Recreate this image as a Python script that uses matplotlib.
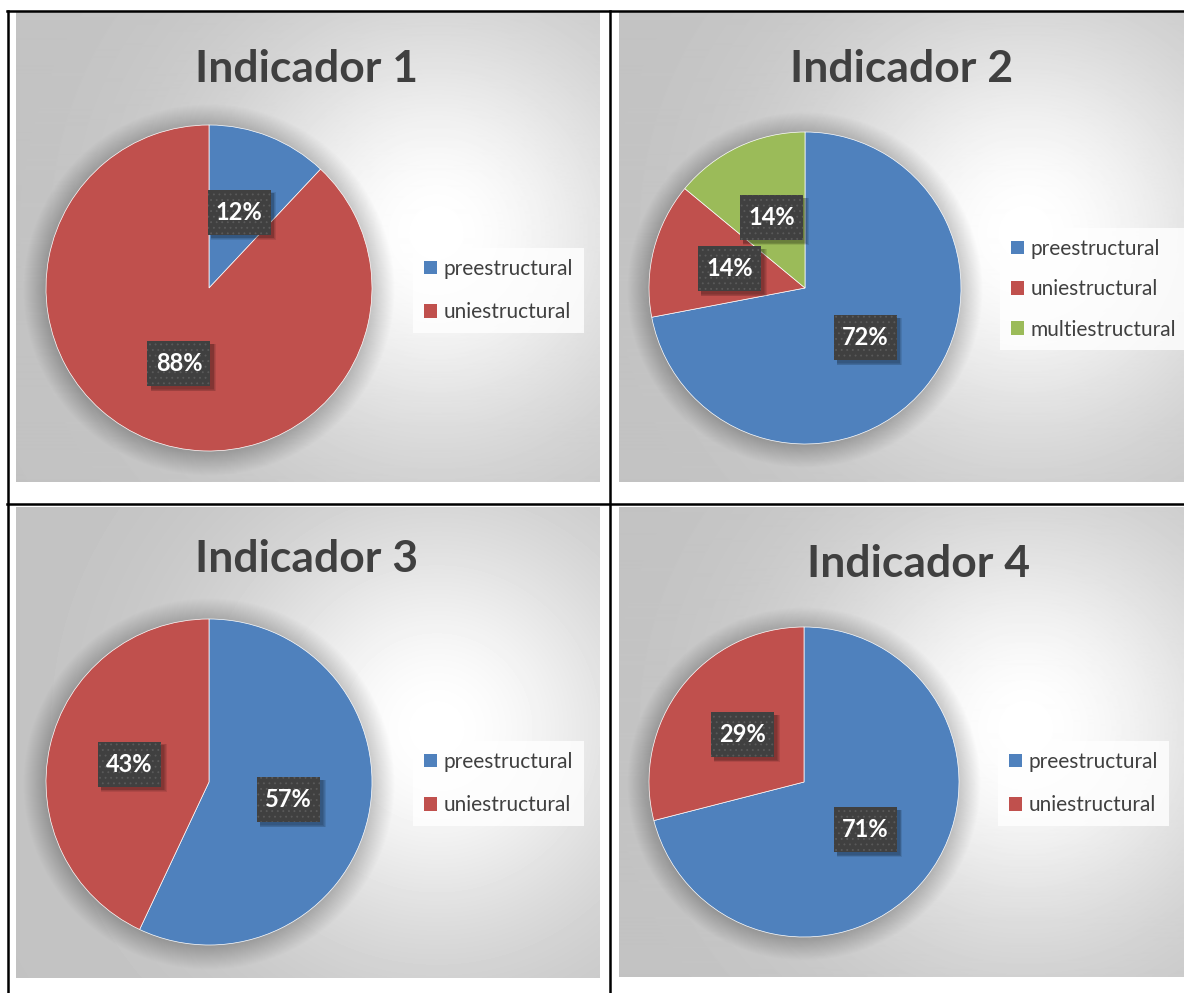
import matplotlib
matplotlib.use('Agg')
import matplotlib.pyplot as plt
import matplotlib.transforms as mtransforms
import numpy as np
from matplotlib.patches import Circle, Rectangle
from matplotlib.lines import Line2D

plt.rcParams['font.family'] = ['Lato', 'DejaVu Sans']
plt.rcParams['hatch.linewidth'] = 0.6

# ===== data =====
titles = ['Indicador 1', 'Indicador 2', 'Indicador 3', 'Indicador 4']
labels_1 = ['preestructural', 'uniestructural']
values_1 = [12, 88]
labels_2 = ['preestructural', 'uniestructural', 'multiestructural']
values_2 = [72, 14, 14]
labels_3 = ['preestructural', 'uniestructural']
values_3 = [57, 43]
labels_4 = ['preestructural', 'uniestructural']
values_4 = [71, 29]
colors = ['#4F81BD', '#C0504D', '#9BBB59']

W, H = 1184, 993
fig = plt.figure(figsize=(W / 100, H / 100), dpi=100)
fig.patch.set_facecolor('white')


def fx(x):
    return x / W


def fy(y):
    return 1 - y / H


# layout in pixels (left, top, right, bottom)
panels = [(16, 12, 600, 482), (619, 12, 1184, 482),
          (16, 507, 600, 978), (619, 507, 1184, 977)]
pies = [(209, 288, 163), (805, 288, 156), (209, 782, 163), (804, 782, 155)]
title_pos = [(307, 82), (902, 82), (307, 572), (919, 577)]
legend_pos = [(403, 238), (990, 218), (403, 731), (988, 731)]
legend_gap = [1.12, 0.98, 1.12, 1.12]
data = [(labels_1, values_1), (labels_2, values_2),
        (labels_3, values_3), (labels_4, values_4)]

box_w, box_h = 63 * 0.72, 45 * 0.72   # label box size in points

for i in range(4):
    l, t, r, b = panels[i]
    w, h = r - l, b - t
    # radial grey gradient background
    bg = fig.add_axes([fx(l), fy(b), w / W, h / H])
    yy, xx = np.mgrid[0:h, 0:w]
    d = np.hypot(xx - 0.72 * w, yy - 0.47 * h)
    val = 0.76 + 0.24 * np.exp(-(d / 215.0) ** 2)
    bg.imshow(val, cmap='gray', vmin=0, vmax=1, aspect='auto',
              extent=[0, w, h, 0], interpolation='bilinear')
    bg.axis('off')

    fig.text(fx(title_pos[i][0]), fy(title_pos[i][1]), titles[i],
             ha='center', va='baseline', fontsize=32, fontweight='bold',
             color='#404040')

    cx, cy, rad = pies[i]
    ax = fig.add_axes([fx(cx - rad), fy(cy + rad), 2 * rad / W, 2 * rad / H])
    labels, values = data[i]
    wedges, texts, autotexts = ax.pie(
        values, colors=colors[:len(values)], startangle=90, counterclock=False,
        autopct=lambda p: f'{p:.0f}%', pctdistance=0.5,
        wedgeprops=dict(edgecolor='white', linewidth=0.5))
    ax.set_xlim(-1, 1)
    ax.set_ylim(-1, 1)
    ax.axis('off')

    # soft shadow round the pie
    for k in range(24):
        ax.add_patch(Circle((0, -0.012), 1 + 0.006 * k, fc='black', alpha=0.008,
                            lw=0, zorder=0, clip_on=False))

    for at in autotexts:
        x, y = at.get_position()
        base = mtransforms.Affine2D().scale(1 / 72) + fig.dpi_scale_trans
        # blurred drop shadow
        for k in range(4):
            sh = Rectangle((-box_w / 2 + 2.2, -box_h / 2 - 2.2 - k * 0.5),
                           box_w + k * 0.6, box_h + k * 0.6, fc='black',
                           alpha=0.09, lw=0, zorder=3,
                           transform=base + mtransforms.ScaledTranslation(x, y, ax.transData))
            ax.add_patch(sh)
        box = Rectangle((-box_w / 2, -box_h / 2), box_w, box_h, fc='#404040',
                        ec='#5a5a5a', hatch='...', lw=0, zorder=3.5,
                        transform=base + mtransforms.ScaledTranslation(x, y, ax.transData))
        ax.add_patch(box)
        at.set_color('white')
        at.set_fontsize(17)
        at.set_fontweight('bold')
        at.set_zorder(4)

    lx, ly = legend_pos[i]
    leg = ax.legend(wedges, labels, loc='upper left',
                    bbox_to_anchor=(fx(lx), fy(ly)), bbox_transform=fig.transFigure,
                    fontsize=15, handlelength=0.65, handleheight=0.65,
                    handletextpad=0.3, labelspacing=legend_gap[i], borderpad=0.5,
                    fancybox=False, labelcolor='#404040')
    leg.get_frame().set_facecolor((1, 1, 1, 0.2))
    leg.get_frame().set_linewidth(0)
    for hd in leg.legend_handles:
        hd.set_linewidth(0)

# table lines
lw = 1.8
fig.add_artist(Line2D([fx(7.5), fx(7.5)], [fy(11), fy(993)], color='black', lw=lw))
fig.add_artist(Line2D([fx(610), fx(610)], [fy(11), fy(993)], color='black', lw=lw))
fig.add_artist(Line2D([fx(7), fx(1184)], [fy(11), fy(11)], color='black', lw=lw))
fig.add_artist(Line2D([fx(7), fx(1184)], [fy(504), fy(504)], color='black', lw=lw))

plt.savefig('out.png', dpi=100)
plt.close()
